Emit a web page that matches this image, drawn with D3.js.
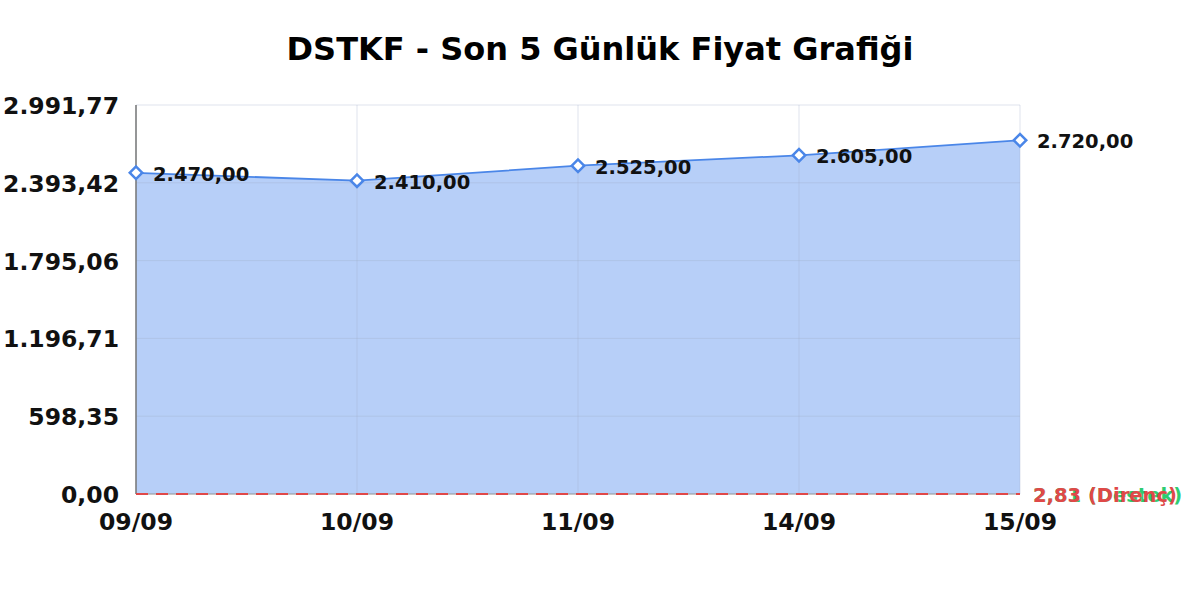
<!DOCTYPE html>
<html><head><meta charset="utf-8">
<script src="https://cdn.jsdelivr.net/npm/d3@7"></script>
<style>body{margin:0;background:#fff}svg{display:block}</style>
</head><body>
<svg id="c" width="1200" height="600"></svg>
<script>
const categories = ["09/09","10/09","11/09","14/09","15/09"];
const prices = [2470, 2410, 2525, 2605, 2720];
const yTicks = [0, 598.35, 1196.71, 1795.06, 2393.42, 2991.77];
const support = 2.81, resistance = 2.83;
const title = "DSTKF - Son 5 Günlük Fiyat Grafiği";

const svg = d3.select("#c");
const m = {l:136, r:1020, t:105, b:494};
const font = "'DejaVu Sans', sans-serif";
const x = d3.scalePoint().domain(categories).range([m.l, m.r]);
const y = d3.scaleLinear().domain([0, d3.max(yTicks)]).range([m.b, m.t]);
const fmt = v => v.toLocaleString("tr-TR",{minimumFractionDigits:2, maximumFractionDigits:2});

svg.append("text").attr("x",600).attr("y",60).attr("text-anchor","middle")
  .attr("font-family",font).attr("font-weight","bold").attr("font-size",32).text(title);

// area
const pts = categories.map((c,i)=>[c,prices[i]]);
svg.append("path").datum(pts)
  .attr("d", d3.area().x(d=>x(d[0])).y0(y(0)).y1(d=>y(d[1])))
  .attr("fill","#b7cff8");

// grid
const g = svg.append("g");
g.selectAll(".hg").data(yTicks).join("line")
  .attr("x1",m.l).attr("x2",m.r).attr("y1",d=>y(d)).attr("y2",d=>y(d))
  .attr("stroke","#a0b0c8").attr("stroke-opacity",0.35).attr("stroke-width",1);
g.selectAll(".vg").data(categories).join("line")
  .attr("x1",d=>x(d)).attr("x2",d=>x(d)).attr("y1",m.t).attr("y2",m.b)
  .attr("stroke","#a0b0c8").attr("stroke-opacity",0.35).attr("stroke-width",1);

svg.append("path").datum(pts)
  .attr("d", d3.line().x(d=>x(d[0])).y(d=>y(d[1])))
  .attr("fill","none").attr("stroke","#4a86e8").attr("stroke-width",1.8);

// axes lines
svg.append("line").attr("x1",m.l).attr("x2",m.l).attr("y1",m.t).attr("y2",m.b)
  .attr("stroke","#777").attr("stroke-width",1.5);
svg.append("line").attr("x1",m.l).attr("x2",m.r).attr("y1",m.b).attr("y2",m.b)
  .attr("stroke","#999").attr("stroke-width",1);

// support / resistance
svg.append("line").attr("x1",m.l).attr("x2",m.r).attr("y1",y(support)).attr("y2",y(support))
  .attr("stroke","#2ecc71").attr("stroke-width",2).attr("stroke-dasharray","12,8")
  .attr("shape-rendering","crispEdges");
svg.append("line").attr("x1",m.l).attr("x2",m.r).attr("y1",y(resistance)).attr("y2",y(resistance))
  .attr("stroke","#e04848").attr("stroke-width",2).attr("stroke-dasharray","12,8")
  .attr("shape-rendering","crispEdges");
svg.append("text").attr("x",m.r+13).attr("y",y(support)+8).attr("font-family",font)
  .attr("font-weight","bold").attr("font-size",19.5).attr("fill","#2ecc71")
  .text(fmt(support)+" (Destek)");
svg.append("text").attr("x",m.r+13).attr("y",y(resistance)+8).attr("font-family",font)
  .attr("font-weight","bold").attr("font-size",19.5).attr("fill","#e04848")
  .text(fmt(resistance)+" (Direnç)");

// markers (rotated squares)
const sym = d3.symbol().type(d3.symbolSquare).size(78);
svg.selectAll(".mk").data(pts).join("path")
  .attr("transform",d=>`translate(${x(d[0])},${y(d[1])}) rotate(45)`)
  .attr("d",sym).attr("fill","#fff").attr("stroke","#4a86e8").attr("stroke-width",2.5);

// data labels
svg.selectAll(".dl").data(pts).join("text")
  .attr("x",d=>x(d[0])+17).attr("y",d=>y(d[1])+8)
  .attr("font-family",font).attr("font-weight","bold").attr("font-size",19.5).attr("fill","#111")
  .text(d=>fmt(d[1]));

// y tick labels
svg.selectAll(".yt").data(yTicks).join("text")
  .attr("x",119).attr("y",d=>y(d)+9).attr("text-anchor","end")
  .attr("font-family",font).attr("font-weight","bold").attr("font-size",23.5).attr("fill","#111")
  .text(d=>fmt(d));
// x tick labels
svg.selectAll(".xt").data(categories).join("text")
  .attr("x",d=>x(d)).attr("y",530).attr("text-anchor","middle")
  .attr("font-family",font).attr("font-weight","bold").attr("font-size",23.5).attr("fill","#111")
  .text(d=>d);
</script>
</body></html>
